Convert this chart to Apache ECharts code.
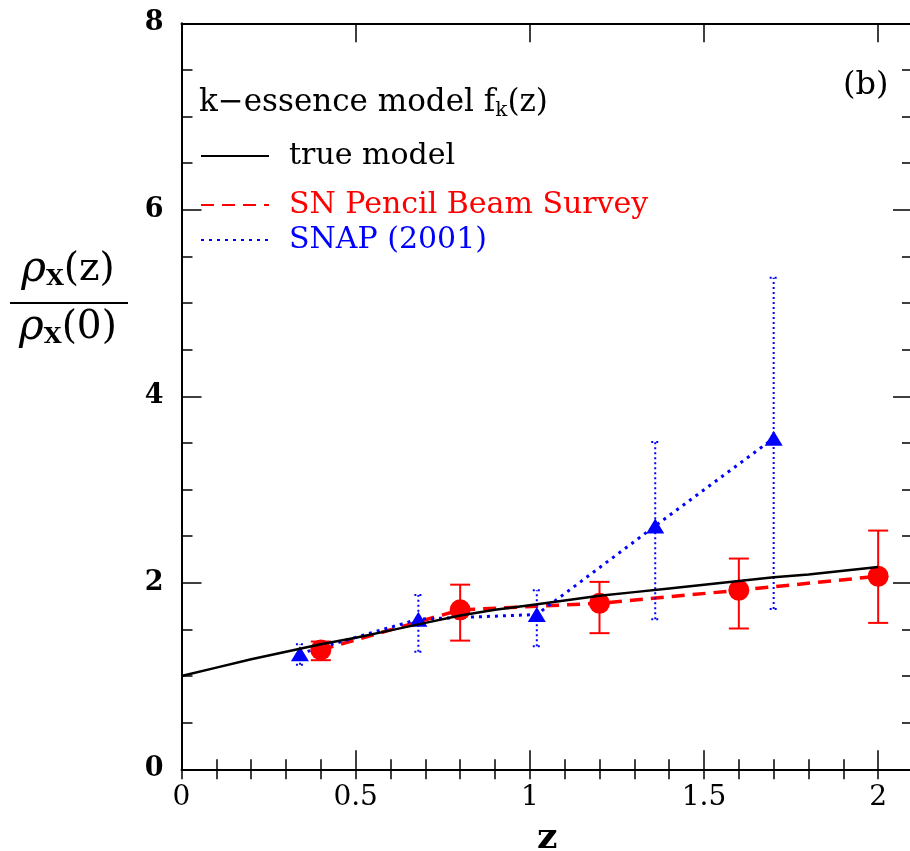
<!DOCTYPE html>
<html><head><meta charset="utf-8">
<script src="https://cdn.jsdelivr.net/npm/echarts@6/dist/echarts.min.js"></script>
<style>html,body{margin:0;padding:0;background:#fff}#c{width:910px;height:851px}</style>
</head><body><div id="c"></div>
<script>
// ---- data ----
const modelZ = [0,0.1,0.2,0.3,0.4,0.5,0.6,0.7,0.8,0.9,1.0,1.1,1.2,1.3,1.4,1.5,1.6,1.7,1.8,1.9,2.0];
const modelY = [1.00,1.09,1.18,1.26,1.34,1.41,1.49,1.57,1.65,1.71,1.76,1.81,1.86,1.90,1.94,1.98,2.02,2.06,2.09,2.13,2.17];
const snZ  = [0.4,0.8,1.2,1.6,2.0];
const snY  = [1.28,1.71,1.78,1.92,2.07];
const snLo = [1.17,1.38,1.46,1.51,1.57];
const snHi = [1.37,1.98,2.01,2.26,2.56];
const snapZ  = [0.34,0.68,1.02,1.36,1.70];
const snapY  = [1.24,1.61,1.66,2.61,3.55];
const snapLo = [1.12,1.26,1.32,1.61,1.72];
const snapHi = [1.34,1.87,1.92,3.51,5.27];
const xTicks = [0,0.5,1,1.5,2];
const yTicks = [0,2,4,6,8];

const FONT = 'DejaVu Serif';
const zip = (a,b) => a.map((v,i)=>[v,b[i]]);
const zip3 = (a,b,c) => a.map((v,i)=>[v,b[i],c[i]]);

function errRender(capHalf, style){
  return function(params, api){
    const x = api.value(0), lo = api.value(1), hi = api.value(2);
    const pL = api.coord([x, lo]), pH = api.coord([x, hi]);
    return {type:'group', children:[
      {type:'line', shape:{x1:pL[0], y1:pL[1], x2:pH[0], y2:pH[1]}, style},
      {type:'line', shape:{x1:pL[0]-capHalf, y1:pL[1], x2:pL[0]+capHalf, y2:pL[1]}, style},
      {type:'line', shape:{x1:pH[0]-capHalf, y1:pH[1], x2:pH[0]+capHalf, y2:pH[1]}, style}
    ]};
  };
}

const axisLine = {show:true, onZero:false, lineStyle:{color:'#000', width:2}};
function xAx(pos, major, withLabels){
  return {
    type:'value', min:0, max:2.1, interval: major ? 0.5 : 0.1, position:pos,
    axisLine: major ? axisLine : {show:false},
    axisTick:{show:true, inside:true, length: major ? 19 : 10, lineStyle:{color:'#000', width:1.5}},
    axisLabel: withLabels ? {show:true, margin:14, showMaxLabel:false,
      color:'#000', fontFamily:FONT, fontSize:28,
      formatter: v => xTicks.indexOf(+v.toFixed(2))>=0 ? String(+v.toFixed(2)) : ''} : {show:false},
    splitLine:{show:false},
    name: withLabels ? 'z' : '', nameLocation:'middle', nameGap:51, nameMoveOverlap:false,
    nameTextStyle:{color:'#000', fontFamily:FONT, fontWeight:'bold', fontSize:36}
  };
}
function yAx(pos, withLabels){
  return {
    type:'value', min:0, max:8, interval:2, position:pos,
    axisLine: axisLine,
    axisTick:{show:true, inside:true, length:20, lineStyle:{color:'#000', width:1.5}},
    minorTick:{show:true, splitNumber:4, length:11, lineStyle:{color:'#000', width:1.5}},
    axisLabel: withLabels ? {show:true, margin:18, color:'#000', fontFamily:FONT, fontWeight:'bold', fontSize:27,
      formatter: v => yTicks.indexOf(v)>=0 ? String(v) : ''} : {show:false},
    splitLine:{show:false}, minorSplitLine:{show:false}
  };
}

const chart = echarts.init(document.getElementById('c'), null, {renderer:'canvas'});
const legendBase = {orient:'vertical', left:195, itemWidth:68, itemHeight:14,
  itemStyle:{opacity:0},
  textStyle:{fontFamily:FONT, fontSize:30, color:'#000', padding:[0,0,0,15]}, selectedMode:false};
chart.setOption({
  animation:false,
  backgroundColor:'#fff',
  grid:{left:181.5, top:23.3, right:-3, bottom:81.7, outerBoundsMode:'none', containLabel:false},
  xAxis:[xAx('bottom',true,true), xAx('bottom',false,false), xAx('top',true,false), xAx('top',false,false)],
  yAxis:[yAx('left',true), yAx('right',false)],
  legend:[
    Object.assign({}, legendBase, {top:136, data:[{name:'true model'}]}),
    Object.assign({}, legendBase, {top:185, data:[{name:'SN Pencil Beam Survey', textStyle:{color:'#ff0000'}}]}),
    Object.assign({}, legendBase, {top:220, data:[{name:'SNAP (2001)', textStyle:{color:'#0000ff'}}]})
  ],
  graphic:[
    {type:'text', left:199, top:87, silent:true,
      style:{text:'{a|k−essence model f}{s|k}{a|(z)}', rich:{
        a:{fontFamily:FONT, fontSize:31, fill:'#000'},
        s:{fontFamily:FONT, fontSize:20, fill:'#000', padding:[16,0,0,0]}}}},
    {type:'text', left:843, top:70, silent:true,
      style:{text:'(b)', fontFamily:FONT, fontSize:32, fill:'#000'}},
    {type:'text', x:68, y:270, silent:true,
      style:{text:'{r|ρ}{s|X}{p|(z)}', align:'center', verticalAlign:'middle', rich:{
        r:{fontFamily:FONT, fontStyle:'italic', fontSize:42, fill:'#000'},
        s:{fontFamily:FONT, fontWeight:'bold', fontSize:23, fill:'#000', padding:[18,0,0,0]},
        p:{fontFamily:FONT, fontSize:39, fill:'#000'}}}},
    {type:'line', silent:true, shape:{x1:10, y1:303, x2:128, y2:303}, style:{stroke:'#000', lineWidth:2}},
    {type:'text', x:68, y:328, silent:true,
      style:{text:'{r|ρ}{s|X}{p|(0)}', align:'center', verticalAlign:'middle', rich:{
        r:{fontFamily:FONT, fontStyle:'italic', fontSize:42, fill:'#000'},
        s:{fontFamily:FONT, fontWeight:'bold', fontSize:23, fill:'#000', padding:[18,0,0,0]},
        p:{fontFamily:FONT, fontSize:39, fill:'#000'}}}}
  ],
  series:[
    {name:'SN Pencil Beam Survey', type:'line', data:zip(snZ,snY), symbol:'none', z:3,
      lineStyle:{color:'#ff0000', width:3.5, type:[13,8]}, itemStyle:{color:'#ff0000'}},
    {name:'SNAP (2001)', type:'line', data:zip(snapZ,snapY), symbol:'none', z:3,
      lineStyle:{color:'#0000ff', width:3, type:[3,5]}, itemStyle:{color:'#0000ff'}},
    {name:'snErr', type:'custom', data:zip3(snZ,snLo,snHi), z:4,
      renderItem: errRender(10, {stroke:'#ff0000', lineWidth:2, fill:null})},
    {name:'snapErr', type:'custom', data:zip3(snapZ,snapLo,snapHi), z:4,
      renderItem: errRender(4, {stroke:'#0000ff', lineWidth:2, lineDash:[2,3], fill:null})},
    {name:'snPts', type:'scatter', data:zip(snZ,snY), symbol:'circle', symbolSize:21, z:5,
      itemStyle:{color:'#ff0000', opacity:1}},
    {name:'snapPts', type:'scatter', data:zip(snapZ,snapY), symbol:'triangle', symbolSize:[18,15], z:5,
      itemStyle:{color:'#0000ff', opacity:1}},
    {name:'true model', type:'line', data:zip(modelZ,modelY), symbol:'none', smooth:false, z:6,
      lineStyle:{color:'#000', width:2.5}, itemStyle:{color:'#000'}}
  ]
});
</script></body></html>
